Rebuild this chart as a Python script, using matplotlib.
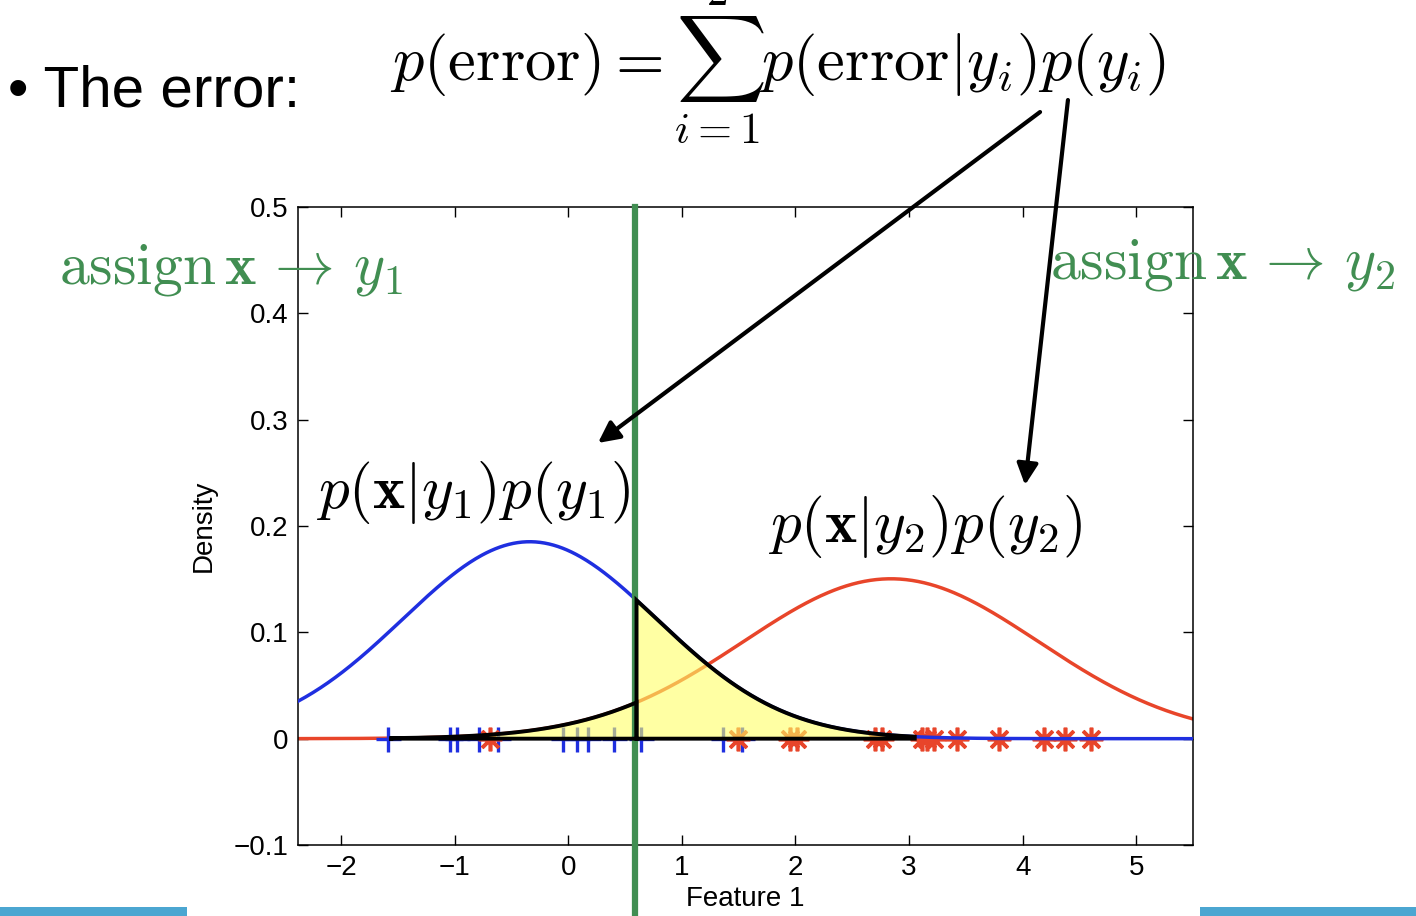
import numpy as np
import matplotlib.pyplot as plt
from matplotlib.patches import Rectangle, FancyArrowPatch

plt.rcParams['mathtext.fontset'] = 'cm'

# class-conditional gaussians (mean, std, prior)
class1_mu, class1_sd, class1_prior = -0.34, 1.12, 0.52
class2_mu, class2_sd, class2_prior = 2.84, 1.30, 0.49
threshold = 0.6
error_lo, error_hi = -1.56, 3.05

# observed samples on the feature axis
x_class1 = [-1.59, -1.04, -0.98, -0.79, -0.62, -0.05, 0.08, 0.17, 0.40, 0.64, 1.36, 1.53]
x_class2 = [-0.69, 1.49, 1.95, 2.01, 2.70, 2.76, 3.11, 3.16, 3.22, 3.42, 3.79, 4.19, 4.37, 4.60]

xticks = [-2, -1, 0, 1, 2, 3, 4, 5]
xticklabels = ['\u22122', '\u22121', '0', '1', '2', '3', '4', '5']
yticks = [-0.1, 0, 0.1, 0.2, 0.3, 0.4, 0.5]
yticklabels = ['\u22120.1', '0', '0.1', '0.2', '0.3', '0.4', '0.5']

BLUE = '#1f2fe0'
RED = '#e8452a'
GREEN = '#418e52'


def weighted_pdf(x, mu, sd, prior):
    return prior * np.exp(-0.5 * ((x - mu) / sd) ** 2) / (sd * np.sqrt(2 * np.pi))


fig = plt.figure(figsize=(14.16, 9.16), dpi=100)
ax = fig.add_axes([0.2105, 0.0775, 0.632, 0.6965])

xs = np.linspace(-2.38, 5.5, 600)
ax.plot(xs, weighted_pdf(xs, class2_mu, class2_sd, class2_prior), color=RED, lw=2.5, zorder=2)
ax.plot(x_class1, np.zeros(len(x_class1)), ls='none', marker='+', ms=18, mew=2.4,
        color=BLUE, zorder=3)
ax.plot(x_class2, np.zeros(len(x_class2)), ls='none', marker=(8, 2, 0), ms=17, mew=2.6,
        color=RED, zorder=3)
ax.plot(xs, weighted_pdf(xs, class1_mu, class1_sd, class1_prior), color=BLUE, lw=2.5, zorder=4)

# error region: class 2 mass on the y1 side, class 1 mass on the y2 side
xl = np.linspace(error_lo, threshold, 200)
xr = np.linspace(threshold, error_hi, 200)
yl = weighted_pdf(xl, class2_mu, class2_sd, class2_prior)
yr = weighted_pdf(xr, class1_mu, class1_sd, class1_prior)
for xx, yy in [(xl, yl), (xr, yr)]:
    ax.fill_between(xx, 0, yy, color=(1, 1, 0.4), alpha=0.6, lw=0, zorder=5)
    px = np.concatenate([[xx[0]], xx, [xx[-1], xx[0]]])
    py = np.concatenate([[0], yy, [0, 0]])
    ax.plot(px, py, color='black', lw=2.8, zorder=7, solid_joinstyle='miter')

ax.axvline(threshold - 0.01, ymin=-0.112, ymax=1, color=GREEN, lw=4.5, clip_on=False, zorder=6)

ax.set_xlim(-2.38, 5.5)
ax.set_ylim(-0.1, 0.5)
ax.set_xticks(xticks)
ax.set_xticklabels(xticklabels)
ax.set_yticks(yticks)
ax.set_yticklabels(yticklabels)
ax.tick_params(direction='in', length=7, width=1, top=True, right=True,
               labelsize=20, pad=7)
for lab in ax.get_xticklabels() + ax.get_yticklabels():
    lab.set_fontfamily('Liberation Sans')
for sp in ax.spines.values():
    sp.set_linewidth(1.1)
ax.set_xlabel('Feature 1', fontsize=20, family='Liberation Sans', labelpad=4)
ax.set_ylabel('Density', fontsize=20, family='Liberation Sans', labelpad=12)

# slide text
fig.text(0.0056, 0.9, '\u2022 The error:', fontsize=42, family='Liberation Sans',
         va='center', ha='left')
fig.text(0.2754, 0.913,
         r'$p(\mathrm{error}) = \sum_{i=1}^{2} p(\mathrm{error}|y_i)p(y_i)$',
         fontsize=45, va='baseline', ha='left')
fig.text(0.042, 0.691, r'$\mathrm{assign}\,\mathbf{x}\,\rightarrow\,y_1$',
         fontsize=43, color=GREEN, va='baseline', ha='left')
fig.text(0.7415, 0.6965, r'$\mathrm{assign}\,\mathbf{x}\,\rightarrow\,y_2$',
         fontsize=43, color=GREEN, va='baseline', ha='left')
fig.text(0.334, 0.4618, r'$p(\mathbf{x}|y_1)p(y_1)$', fontsize=44,
         va='center', ha='center')
fig.text(0.6532, 0.4247, r'$p(\mathbf{x}|y_2)p(y_2)$', fontsize=44,
         va='center', ha='center')

arrow = dict(arrowstyle='-|>', color='black', lw=3, mutation_scale=32, shrinkA=0, shrinkB=0)
fig.add_artist(FancyArrowPatch((0.7345, 0.8777), (0.4223, 0.5164),
                               transform=fig.transFigure, **arrow))
fig.add_artist(FancyArrowPatch((0.7542, 0.8908), (0.7239, 0.4705),
                               transform=fig.transFigure, **arrow))

fig.add_artist(Rectangle((0, 0), 0.132, 0.0098, transform=fig.transFigure,
                         color='#4ba6d1', lw=0))
fig.add_artist(Rectangle((0.8475, 0), 0.1525, 0.0098, transform=fig.transFigure,
                         color='#4ba6d1', lw=0))

fig.savefig('out.png', dpi=100)
